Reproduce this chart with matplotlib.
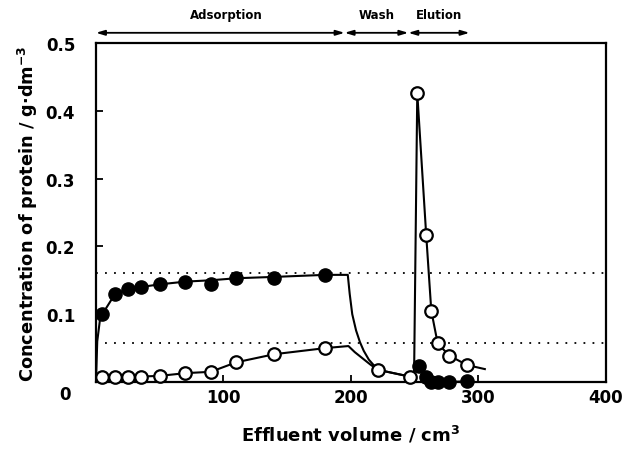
import matplotlib
matplotlib.use("Agg")
import matplotlib.pyplot as plt

plt.rcParams['font.family'] = ['DejaVu Sans']
plt.rcParams['font.weight'] = 'bold'
plt.rcParams['mathtext.default'] = 'bf'

# measured points (filled = one protein, open = the other)
filled_x = [5, 15, 25, 35, 50, 70, 90, 110, 140, 180, 253, 259, 263, 268, 277, 291]
filled_y = [0.100, 0.130, 0.137, 0.140, 0.144, 0.148, 0.144, 0.153, 0.154, 0.158,
            0.023, 0.007, 0.0, 0.0, 0.0, 0.001]
open_x = [5, 15, 25, 35, 50, 70, 90, 110, 140, 180, 221, 246, 252, 259, 263, 268, 277, 291]
open_y = [0.008, 0.008, 0.008, 0.008, 0.009, 0.013, 0.015, 0.029, 0.041, 0.050,
          0.018, 0.008, 0.426, 0.217, 0.105, 0.057, 0.039, 0.025]

# drawn curves through the points
filled_line_x = [0, 1, 3, 5, 15, 25, 35, 50, 70, 90, 110, 140, 180, 197.5, 199, 201, 204,
                 207, 210, 214, 221, 246, 253, 259, 263, 268, 277, 291]
filled_line_y = [0.0, 0.06, 0.09, 0.100, 0.130, 0.137, 0.140, 0.144, 0.148, 0.150, 0.153,
                 0.155, 0.158, 0.158, 0.130, 0.100, 0.076, 0.059, 0.046, 0.033, 0.018,
                 0.008, 0.023, 0.007, 0.0, 0.0, 0.0, 0.001]
open_line_x = [0, 5, 15, 25, 35, 50, 70, 90, 110, 140, 180, 198, 203, 209, 215, 221, 246,
               249.5, 252, 259, 263, 268, 277, 291, 305]
open_line_y = [0.005, 0.008, 0.008, 0.008, 0.008, 0.009, 0.013, 0.015, 0.029, 0.041, 0.050,
               0.053, 0.044, 0.035, 0.026, 0.018, 0.008, 0.010, 0.426, 0.217, 0.105, 0.057,
               0.039, 0.025, 0.019]

ref_levels = [0.160, 0.058]

phases = ["Adsorption", "Wash", "Elution"]
phase_edges = [0, 195, 245, 293]

fig = plt.figure(figsize=(6.24, 4.52), dpi=100)
ax = fig.add_axes([0.1538, 0.1527, 0.8173, 0.75])

for lvl in ref_levels:
    ax.plot([0, 400], [lvl, lvl], color="black", linestyle=(0, (1, 4)), linewidth=1.3)

ax.plot(filled_line_x, filled_line_y, color="black", linewidth=1.5)
ax.plot(open_line_x, open_line_y, color="black", linewidth=1.5)
ax.plot(filled_x, filled_y, linestyle="none", marker="o", markersize=9.5,
        markerfacecolor="black", markeredgecolor="black", clip_on=False, zorder=4)
ax.plot(open_x, open_y, linestyle="none", marker="o", markersize=9,
        markerfacecolor="white", markeredgecolor="black", markeredgewidth=1.6,
        clip_on=False, zorder=5)

ax.set_xlim(0, 400)
ax.set_ylim(0, 0.5)
ax.set_xticks([100, 200, 300, 400])
ax.set_yticks([0.1, 0.2, 0.3, 0.4, 0.5])
ax.set_yticklabels(["0.1", "0.2", "0.3", "0.4", "0.5"])
ax.tick_params(axis="x", direction="in", length=5, width=1.3, pad=4, labelsize=12)
ax.tick_params(axis="y", direction="in", length=5, width=1.3, pad=15, labelsize=12)
for s in ax.spines.values():
    s.set_linewidth(1.6)

ax.annotate("0", xy=(0, 0), xytext=(-18, -9), textcoords="offset points",
            ha="right", va="center", fontsize=12, fontweight="bold",
            annotation_clip=False)

ax.set_xlabel("Effluent volume / cm$^3$", fontsize=13, fontweight="bold", labelpad=13)
ax.set_ylabel("Concentration of protein / g\u00b7dm$^{-3}$", fontsize=12.8,
              fontweight="bold", labelpad=4)

for i, name in enumerate(phases):
    x0, x1 = phase_edges[i], phase_edges[i + 1]
    ax.annotate("", xy=(x0, 0.515), xytext=(x1, 0.515), annotation_clip=False,
                arrowprops=dict(arrowstyle="<|-|>,head_length=0.5,head_width=0.15",
                                color="black", linewidth=1.3, shrinkA=0, shrinkB=0))
    ax.text((x0 + x1) / 2 + (5 if i == 0 else 0), 0.542, name, ha="center", va="center",
            fontsize=8.5, fontweight="bold", clip_on=False)

fig.savefig("out.png", dpi=100)
